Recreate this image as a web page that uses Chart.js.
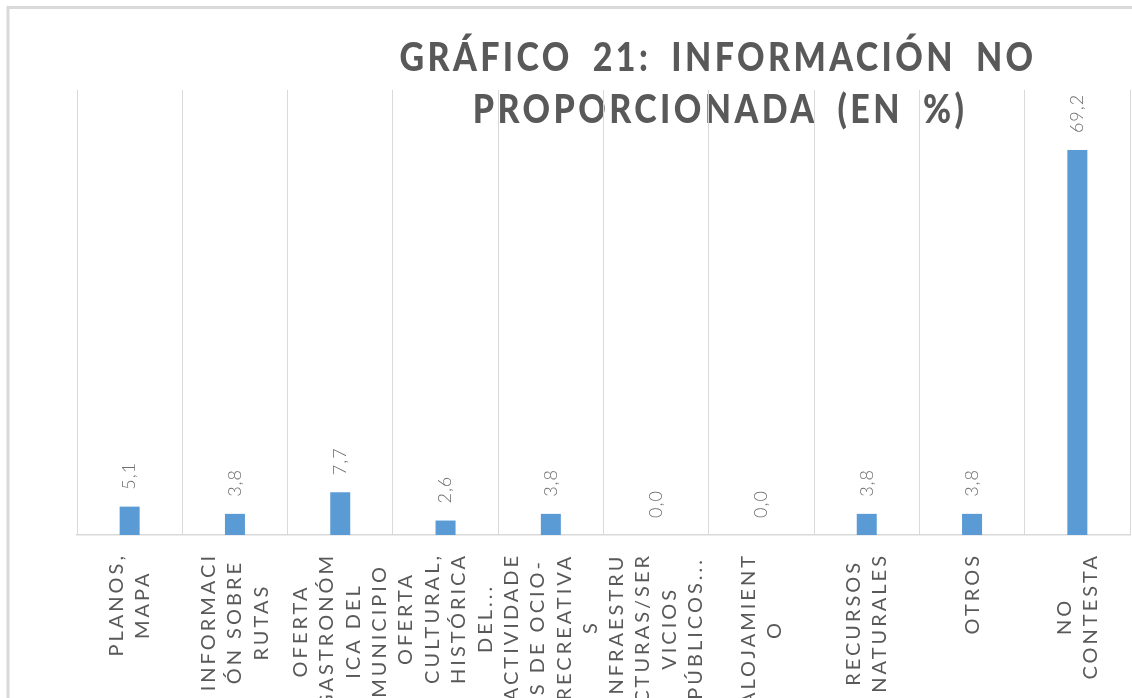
<!DOCTYPE html>
<html>
<head>
<meta charset="utf-8">
<script src="https://cdn.jsdelivr.net/npm/chart.js@4/dist/chart.umd.min.js"></script>
<style>
  body { margin: 0; background: #fff; }
  #wrap { width: 1132px; height: 698px; }
</style>
</head>
<body>
<div id="wrap"><canvas id="barChart" width="1132" height="698"></canvas></div>
<script>
const titleLines = ["GRÁFICO 21: INFORMACIÓN NO", "PROPORCIONADA (EN %)"];
const categories = [
  ["PLANOS,", "MAPA"],
  ["INFORMACI", "ÓN SOBRE", "RUTAS"],
  ["OFERTA", "GASTRONÓM", "ICA DEL", "MUNICIPIO"],
  ["OFERTA", "CULTURAL,", "HISTÓRICA", "DEL..."],
  ["ACTIVIDADE", "S DE OCIO-", "RECREATIVA", "S"],
  ["INFRAESTRU", "CTURAS/SER", "VICIOS", "PÚBLICOS..."],
  ["ALOJAMIENT", "O"],
  ["RECURSOS", "NATURALES"],
  ["OTROS"],
  ["NO", "CONTESTA"]
];
const values = [5.1, 3.8, 7.7, 2.6, 3.8, 0.0, 0.0, 3.8, 3.8, 69.2];
const yMax = 80;

const grey = "#595959";
const lineGrey = "#d9d9d9";

// frame + title, drawn first so the grid lies on top like in excel
const framePlugin = {
  id: "frame",
  beforeDraw(chart) {
    const ctx = chart.ctx;
    ctx.save();
    ctx.strokeStyle = lineGrey;
    ctx.lineWidth = 3;
    ctx.beginPath();
    ctx.moveTo(8, 698);
    ctx.lineTo(8, 7.5);
    ctx.lineTo(1132, 7.5);
    ctx.stroke();

    ctx.fillStyle = grey;
    ctx.font = "900 40px Lato";
    ctx.letterSpacing = "4px";
    ctx.wordSpacing = "10px";
    ctx.textAlign = "center";
    ctx.textBaseline = "alphabetic";
    [[718, 71], [720, 123]].forEach(([x, y], i) => {
      ctx.save();
      ctx.translate(x, y);
      ctx.scale(0.85, 1);
      ctx.fillText(titleLines[i], 0, 0);
      ctx.restore();
    });
    ctx.restore();
  }
};

// value labels, rotated, above each bar
const valuePlugin = {
  id: "values",
  afterDatasetsDraw(chart) {
    const ctx = chart.ctx;
    const meta = chart.getDatasetMeta(0);
    ctx.save();
    ctx.fillStyle = "#6f6f6f";
    ctx.font = "300 18px Lato";
    ctx.letterSpacing = "1px";
    ctx.textAlign = "left";
    ctx.textBaseline = "middle";
    meta.data.forEach((bar, i) => {
      const txt = values[i].toFixed(1).replace(".", ",");
      ctx.save();
      ctx.translate(bar.x, bar.y - 17);
      ctx.rotate(-Math.PI / 2);
      ctx.fillText(txt, 0, 0);
      ctx.restore();
    });
    ctx.restore();
  }
};

// category labels: rotated, wrapped, lines centred on the longest one
const labelPlugin = {
  id: "catLabels",
  afterDraw(chart) {
    const ctx = chart.ctx;
    const xs = chart.scales.x;
    const top = chart.chartArea.bottom + 18;
    const lineH = 26.5;
    ctx.save();
    ctx.fillStyle = grey;
    ctx.font = "20px Lato";
    ctx.letterSpacing = "3px";
    ctx.textAlign = "center";
    ctx.textBaseline = "middle";
    categories.forEach((lines, i) => {
      const cx = xs.getPixelForValue(i);
      const maxW = Math.max(...lines.map(l => ctx.measureText(l).width));
      ctx.save();
      ctx.translate(cx, top);
      ctx.rotate(-Math.PI / 2);
      lines.forEach((l, k) => {
        ctx.fillText(l, -maxW / 2, (k - (lines.length - 1) / 2) * lineH);
      });
      ctx.restore();
    });
    ctx.restore();
  }
};

new Chart(document.getElementById("barChart"), {
  type: "bar",
  data: {
    labels: categories,
    datasets: [{
      data: values,
      backgroundColor: "#5b9bd5",
      barPercentage: 1,
      categoryPercentage: 0.19
    }]
  },
  options: {
    responsive: false,
    animation: false,
    layout: { padding: { top: 90, left: 77, right: 2, bottom: 0 } },
    plugins: {
      legend: { display: false },
      tooltip: { enabled: false },
      title: { display: false }
    },
    scales: {
      x: {
        ticks: { display: false },
        grid: { color: lineGrey, lineWidth: 1, drawTicks: false, offset: true },
        border: { color: lineGrey, width: 1.5 },
        afterFit(scale) { scale.height = 163; }
      },
      y: {
        display: false,
        min: 0,
        max: yMax
      }
    }
  },
  plugins: [framePlugin, valuePlugin, labelPlugin]
});
</script>
</body>
</html>
